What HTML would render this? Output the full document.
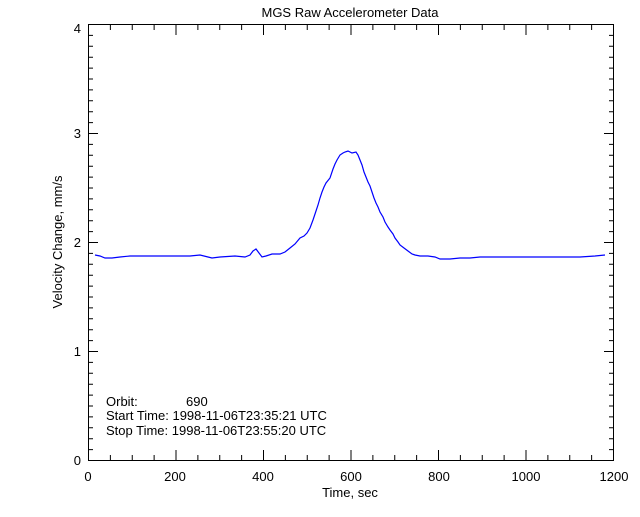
<!DOCTYPE html>
<html><head><style>
body{margin:0;background:#fff}
svg text{font-family:"Liberation Sans",sans-serif;font-size:13px;fill:#000}
</style></head><body>
<svg width="640" height="512" xmlns="http://www.w3.org/2000/svg">
<rect width="640" height="512" fill="#fff"/>
<g stroke="#000" stroke-width="1" fill="none">
<rect x="88.5" y="24.5" width="525" height="436"/>
<path d="M88.5,460 v-10 m21.875,10 v-5 m21.875,5 v-5 m21.875,5 v-5 m21.875,5 v-10 m21.875,10 v-5 m21.875,5 v-5 m21.875,5 v-5 m21.875,5 v-10 m21.875,10 v-5 m21.875,5 v-5 m21.875,5 v-5 m21.875,5 v-10 m21.875,10 v-5 m21.875,5 v-5 m21.875,5 v-5 m21.875,5 v-10 m21.875,10 v-5 m21.875,5 v-5 m21.875,5 v-5 m21.875,5 v-10 m21.875,10 v-5 m21.875,5 v-5 m21.875,5 v-5 m21.875,5 v-10"/>
<path d="M88.5,25 v10 m21.875,-10 v5 m21.875,-5 v5 m21.875,-5 v5 m21.875,-5 v10 m21.875,-10 v5 m21.875,-5 v5 m21.875,-5 v5 m21.875,-5 v10 m21.875,-10 v5 m21.875,-5 v5 m21.875,-5 v5 m21.875,-5 v10 m21.875,-10 v5 m21.875,-5 v5 m21.875,-5 v5 m21.875,-5 v10 m21.875,-10 v5 m21.875,-5 v5 m21.875,-5 v5 m21.875,-5 v10 m21.875,-10 v5 m21.875,-5 v5 m21.875,-5 v5 m21.875,-5 v10"/>
<path d="M88,460.5 h10 m-10,-10.9 h5 m-5,-10.9 h5 m-5,-10.9 h5 m-5,-10.9 h5 m-5,-10.9 h5 m-5,-10.9 h5 m-5,-10.9 h5 m-5,-10.9 h5 m-5,-10.9 h5 m-5,-10.9 h10 m-10,-10.9 h5 m-5,-10.9 h5 m-5,-10.9 h5 m-5,-10.9 h5 m-5,-10.9 h5 m-5,-10.9 h5 m-5,-10.9 h5 m-5,-10.9 h5 m-5,-10.9 h5 m-5,-10.9 h10 m-10,-10.9 h5 m-5,-10.9 h5 m-5,-10.9 h5 m-5,-10.9 h5 m-5,-10.9 h5 m-5,-10.9 h5 m-5,-10.9 h5 m-5,-10.9 h5 m-5,-10.9 h5 m-5,-10.9 h10 m-10,-10.9 h5 m-5,-10.9 h5 m-5,-10.9 h5 m-5,-10.9 h5 m-5,-10.9 h5 m-5,-10.9 h5 m-5,-10.9 h5 m-5,-10.9 h5 m-5,-10.9 h5 m-5,-10.9 h10"/>
<path d="M614,460.5 h-10 m10,-10.9 h-5 m5,-10.9 h-5 m5,-10.9 h-5 m5,-10.9 h-5 m5,-10.9 h-5 m5,-10.9 h-5 m5,-10.9 h-5 m5,-10.9 h-5 m5,-10.9 h-5 m5,-10.9 h-10 m10,-10.9 h-5 m5,-10.9 h-5 m5,-10.9 h-5 m5,-10.9 h-5 m5,-10.9 h-5 m5,-10.9 h-5 m5,-10.9 h-5 m5,-10.9 h-5 m5,-10.9 h-5 m5,-10.9 h-10 m10,-10.9 h-5 m5,-10.9 h-5 m5,-10.9 h-5 m5,-10.9 h-5 m5,-10.9 h-5 m5,-10.9 h-5 m5,-10.9 h-5 m5,-10.9 h-5 m5,-10.9 h-5 m5,-10.9 h-10 m10,-10.9 h-5 m5,-10.9 h-5 m5,-10.9 h-5 m5,-10.9 h-5 m5,-10.9 h-5 m5,-10.9 h-5 m5,-10.9 h-5 m5,-10.9 h-5 m5,-10.9 h-5 m5,-10.9 h-10"/>
</g>
<text x="350" y="17" text-anchor="middle" font-size="15">MGS Raw Accelerometer Data</text>
<g text-anchor="middle">
<text x="88" y="481">0</text><text x="175" y="481">200</text><text x="263" y="481">400</text>
<text x="351" y="481">600</text><text x="439" y="481">800</text><text x="526" y="481">1000</text><text x="614" y="481">1200</text>
<text x="350" y="497">Time, sec</text>
</g>
<g text-anchor="end">
<text x="81" y="465">0</text><text x="81" y="356">1</text><text x="81" y="247">2</text><text x="81" y="138">3</text><text x="81" y="33">4</text>
</g>
<text transform="translate(62,242) rotate(-90)" text-anchor="middle">Velocity Change, mm/s</text>
<text x="106" y="406">Orbit:</text><text x="186" y="406">690</text>
<text x="106" y="420">Start Time: 1998-11-06T23:35:21 UTC</text>
<text x="106" y="435">Stop Time: 1998-11-06T23:55:20 UTC</text>
<polyline fill="none" stroke="#0000ff" stroke-width="1.2" points="95,255 100,256 105,258 112,258 120,257 130,256 145,256 160,256 175,256 190,256 200,255 208,257 212,258 220,257 235,256 245,257 250,255 253,251 256,249 259,253 262,257 266,256 272,254 280,254 285,252 290,248 295,244 300,238 304,236 307,233 310,228 313,220 316,211 318,205 320,198 322,192 324,187 326,183 330,178 333,169 335,164 337,160 340,155 343,153 345,152 348,151 352,153 356,152 358,155 360,160 362,165 364,172 366,177 368,182 370,186 372,192 374,198 376,203 378,207 380,212 383,217 385,222 388,227 390,230 393,234 395,238 398,242 400,245 404,248 408,251 412,254 415,255 420,256 428,256 435,257 440,259 450,259 460,258 470,258 480,257 500,257 520,257 540,257 560,257 580,257 595,256 605,255"/>
</svg>
</body></html>
